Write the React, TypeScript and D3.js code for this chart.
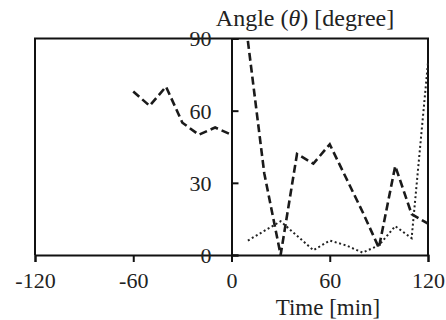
import React, { useEffect, useRef } from 'react';
import * as d3 from 'd3';

// time ticks (min) and angle ticks (degree)
const timeTicks = [-120, -60, 0, 60, 120];
const angleTicks = [0, 30, 60, 90];

// dashed series, before and after t = 0 (drawn as two pieces)
const beforeTime = [-60, -50, -40, -30, -20, -10, 0];
const beforeAngle = [68, 62, 70, 55, 50, 53, 50];
const afterTime = [10, 20, 30, 40, 50, 60, 70, 80, 90, 100, 110, 120];
const afterAngle = [89, 34, 0, 42, 38, 46, 32, 18, 3, 37, 17, 13];

// dotted series
const dotTime = [10, 20, 30, 40, 50, 60, 70, 80, 90, 100, 110, 120];
const dotAngle = [6, 10, 14, 8, 2, 6, 4, 1, 4, 12, 7, 80];

const W = 446;
const H = 320;
const FONT = 'Liberation Serif';

const App = () => {
  const svgRef = useRef(null);

  useEffect(() => {
    const margin = { top: 38.5, right: 18, bottom: 65, left: 35 };
    const innerWidth = W - margin.left - margin.right;
    const innerHeight = H - margin.top - margin.bottom;

    const svg = d3.select(svgRef.current);
    svg.selectAll('*').remove();

    const g = svg.append('g')
      .attr('transform', `translate(${margin.left}, ${margin.top})`);

    const x = d3.scaleLinear().domain([-120, 120]).range([0, innerWidth]);
    const y = d3.scaleLinear().domain([0, 90]).range([innerHeight, 0]);

    // frame: left, top, right
    g.append('path')
      .attr('d', `M0,${innerHeight}V0H${innerWidth}V${innerHeight}`)
      .attr('fill', 'none')
      .attr('stroke', '#111')
      .attr('stroke-width', 2);

    // x axis (ticks downwards), plain hyphen for negatives
    const xAxis = g.append('g')
      .attr('transform', `translate(0, ${innerHeight})`)
      .call(d3.axisBottom(x).tickValues(timeTicks).tickSize(7).tickPadding(10).tickFormat(d => String(d)))
      .attr('font-family', FONT)
      .attr('font-size', 22);
    xAxis.select('.domain').attr('stroke', '#111').attr('stroke-width', 2);
    xAxis.selectAll('line').attr('stroke', '#111').attr('stroke-width', 2);
    xAxis.selectAll('text').attr('fill', '#222');

    // y axis at t = 0, ticks pointing right, labels left
    const yAxis = g.append('g')
      .attr('transform', `translate(${x(0)}, 0)`)
      .call(d3.axisRight(y).tickValues(angleTicks).tickSize(7).tickFormat(d => String(d)))
      .attr('font-family', FONT)
      .attr('font-size', 22);
    yAxis.select('.domain').attr('stroke', '#111').attr('stroke-width', 2);
    yAxis.selectAll('line').attr('stroke', '#111').attr('stroke-width', 2);
    yAxis.selectAll('text')
      .attr('x', -20)
      .attr('dy', '0.34em')
      .attr('text-anchor', 'end')
      .attr('fill', '#222');

    const line = d3.line()
      .x(d => x(d[0]))
      .y(d => y(d[1]));

    const before = beforeTime.map((t, i) => [t, beforeAngle[i]]);
    const after = afterTime.map((t, i) => [t, afterAngle[i]]);
    const dots = dotTime.map((t, i) => [t, dotAngle[i]]);

    [before, after].forEach(pts => {
      g.append('path')
        .datum(pts)
        .attr('d', line)
        .attr('fill', 'none')
        .attr('stroke', '#1a1a1a')
        .attr('stroke-width', 2.6)
        .attr('stroke-dasharray', '8,4');
    });

    g.append('path')
      .datum(dots)
      .attr('d', line)
      .attr('fill', 'none')
      .attr('stroke', '#222')
      .attr('stroke-width', 2)
      .attr('stroke-dasharray', '2,2.6');

    // titles
    svg.append('text')
      .attr('x', 305)
      .attr('y', 26)
      .attr('text-anchor', 'middle')
      .attr('font-family', FONT)
      .attr('font-size', 24)
      .attr('fill', '#222')
      .call(t => {
        t.append('tspan').text('Angle (');
        t.append('tspan').attr('font-style', 'italic').text('θ');
        t.append('tspan').text(') [degree]');
      });

    svg.append('text')
      .attr('x', 328)
      .attr('y', 315)
      .attr('text-anchor', 'middle')
      .attr('font-family', FONT)
      .attr('font-size', 23)
      .attr('fill', '#222')
      .text('Time [min]');
  }, []);

  return (
    <svg
      ref={svgRef}
      width={W}
      height={H}
      style={{ position: 'absolute', left: 0, top: 0, background: '#fff' }}
    />
  );
};

export default App;
